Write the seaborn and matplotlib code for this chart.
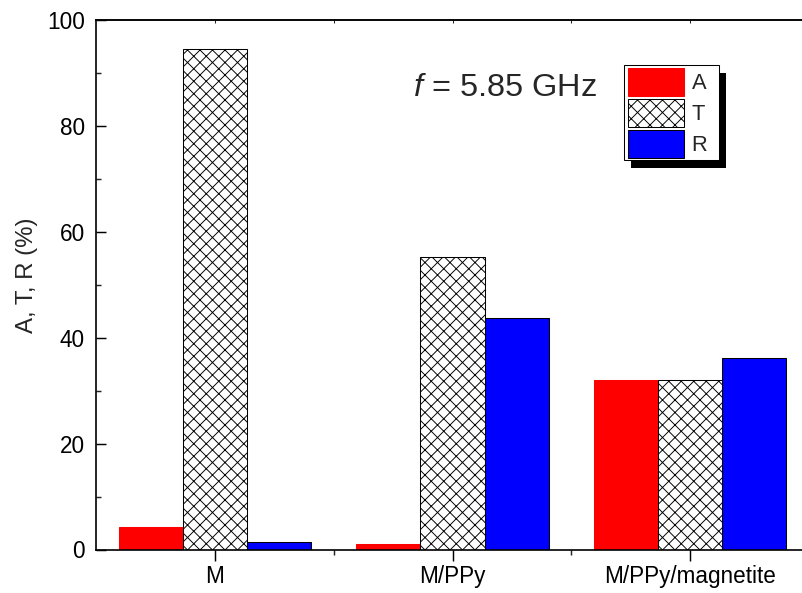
import matplotlib
matplotlib.use("Agg")
import matplotlib.pyplot as plt
from matplotlib.patches import Rectangle
from matplotlib.transforms import IdentityTransform
import pandas as pd
import seaborn as sns

# Values per sample (percent)
samples = ["M", "M/PPy", "M/PPy/magnetite"]
components = ["A", "T", "R"]
absorption = [4.2, 1.0, 32.0]
transmission = [94.5, 55.2, 32.0]
reflection = [1.4, 43.8, 36.1]

df = pd.DataFrame({
    "sample": samples * 3,
    "component": ["A"] * 3 + ["T"] * 3 + ["R"] * 3,
    "value": absorption + transmission + reflection,
})

sns.set_style("ticks")
plt.rcParams["font.family"] = ["Liberation Sans", "DejaVu Sans"]
plt.rcParams["mathtext.fontset"] = "custom"
plt.rcParams["mathtext.rm"] = "Liberation Sans"
plt.rcParams["mathtext.it"] = "Liberation Sans:italic"
plt.rcParams["hatch.linewidth"] = 0.9
plt.rcParams["hatch.color"] = "#1a1a1a"

DPI = 75
W, H = 802, 593
fig = plt.figure(figsize=(W / DPI, H / DPI), dpi=DPI)
ax = fig.add_axes([96 / W, (H - 549.5) / H, 713 / W, 529.5 / H])

palette = {"A": "#ff0000", "T": "#ffffff", "R": "#0000ff"}
sns.barplot(data=df, x="sample", y="value", hue="component",
            hue_order=components, order=samples, palette=palette,
            width=0.81, gap=0, saturation=1, legend=False, ax=ax,
            linewidth=1.0, edgecolor="black")

edge = {"A": "#ff0000", "T": "#000000", "R": "#000000"}
for comp, cont in zip(components, ax.containers):
    for bar in cont:
        bar.set_edgecolor(edge[comp])
        bar.set_linewidth(1.0)
        if comp == "T":
            bar.set_hatch("xx")

ax.set_xlim(-0.5, 2.5)
ax.set_ylim(0, 100)
ax.set_yticks(range(0, 101, 20))
ax.set_yticks(range(10, 100, 20), minor=True)
ax.set_xticks([0, 1, 2])
ax.set_xticklabels(samples)
ax.set_xticks([0.5, 1.5], minor=True)
ax.set_xlabel("")
ax.set_ylabel("A, T, R (%)", fontsize=23)
ax.yaxis.set_label_coords(-0.081, 0.518)

for s in ["left", "bottom", "top"]:
    ax.spines[s].set_linewidth(1.6)
    ax.spines[s].set_color("black")
ax.spines["right"].set_visible(False)

ax.tick_params(axis="y", which="major", direction="in", length=10, width=1.4,
               labelsize=21.6, pad=10.5, colors="black")
ax.tick_params(axis="y", which="minor", direction="in", length=5, width=1.4)
ax.tick_params(axis="x", which="major", direction="out", length=10.5, width=1.4,
               labelsize=21.6, pad=4.8, colors="black")
ax.tick_params(axis="x", which="minor", direction="out", length=5, width=1.4)

top = ax.secondary_xaxis("top")
top.set_xticks([0, 0.5, 1, 1.5, 2])
top.set_xticklabels([])
top.tick_params(direction="in", length=3, width=1.0)
top.spines["top"].set_linewidth(1.6)

ax.text(0.4446, 0.8565, "$f$ = 5.85 GHz", transform=ax.transAxes,
        fontsize=31.2, va="baseline", ha="left")

leg = ax.legend(ax.containers, components, loc="upper left",
                bbox_to_anchor=(0.7461, 0.9093), borderaxespad=0,
                frameon=False, fontsize=21, handlelength=2.55,
                handleheight=1.59, labelspacing=0.137, borderpad=0,
                handletextpad=0.36)
leg.set_zorder(6)

# Boxed legend with a solid drop shadow
fig.canvas.draw()
bb = leg.get_window_extent()
x0, y0 = bb.x0 - 4, bb.y0 - 2
fw, fh = (bb.x1 + 12) - x0, (bb.y1 + 3) - y0
shadow = Rectangle((x0 + 7, y0 - 8), fw, fh, transform=IdentityTransform(),
                   facecolor="black", edgecolor="none", zorder=4, clip_on=False)
frame = Rectangle((x0, y0), fw, fh, transform=IdentityTransform(),
                  facecolor="white", edgecolor="black", linewidth=1.0,
                  zorder=5, clip_on=False)
ax.add_artist(shadow)
ax.add_artist(frame)

fig.savefig("out.png", dpi=DPI)
